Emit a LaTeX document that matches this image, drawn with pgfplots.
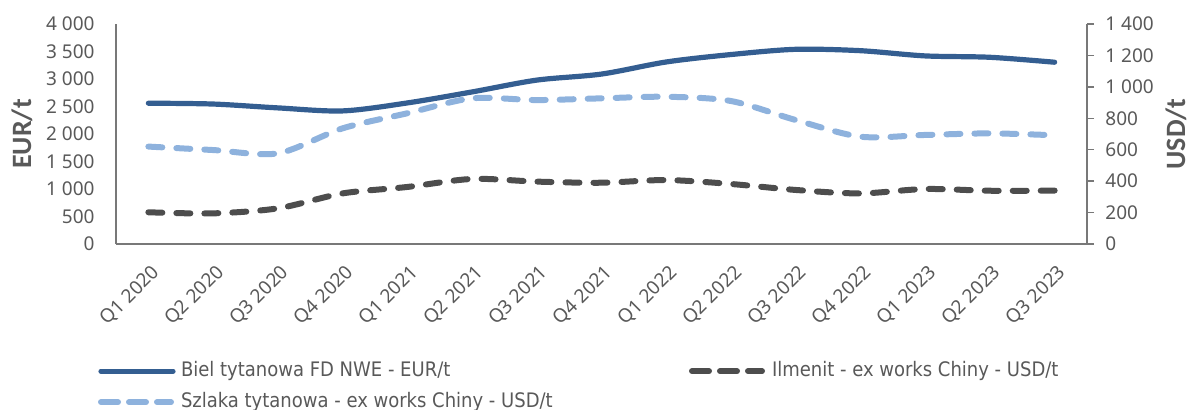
\documentclass[border=0pt]{standalone}
\usepackage{pgfplots}
\pgfplotsset{compat=1.18}
\usepackage{fontspec}
\setmainfont{Noto Sans}
\newfontfamily\legfont{DejaVu Sans Condensed}
\newfontfamily\labfont{Carlito}
\definecolor{biel}{RGB}{52,94,145}
\definecolor{szlaka}{RGB}{142,178,221}
\definecolor{ilmenit}{RGB}{77,77,77}
\definecolor{textgray}{RGB}{89,89,89}
\definecolor{axisgray}{RGB}{120,120,120}
\begin{document}
\begin{tikzpicture}
\pgfplotsset{
  common/.style={
    at={(0,0)}, anchor=south west, scale only axis,
    width=485.5pt, height=110pt,
    xmin=-0.5, xmax=14.5, clip=false,
    /pgf/number format/assume math mode=true,
    /pgf/number format/1000 sep={\ },
    scaled y ticks=false,
    axis line style={draw=axisgray, line width=0.75pt},
    tick label style={font=\fontsize{9.5}{11}\selectfont, text=textgray},
  },
  biel style/.style={biel, line width=2.6pt, line cap=round, line join=round},
  szlaka style/.style={szlaka, line width=3pt, line cap=round, dash pattern=on 7pt off 7pt},
  ilmenit style/.style={ilmenit, line width=3pt, line cap=round, dash pattern=on 7pt off 7pt},
}
\begin{axis}[common,
  axis x line*=bottom, axis y line*=left,
  ymin=0, ymax=4000, ytick={0,500,...,4000},
  xtick={0,...,14},
  xticklabels={Q1 2020,Q2 2020,Q3 2020,Q4 2020,Q1 2021,Q2 2021,Q3 2021,Q4 2021,Q1 2022,Q2 2022,Q3 2022,Q4 2022,Q1 2023,Q2 2023,Q3 2023},
  xtick style={draw=none}, ytick style={draw=none},
  xticklabel style={xshift=1pt, yshift=-9.5pt, rotate=45, anchor=north east, inner sep=0pt},
  yticklabel style={anchor=east, inner sep=0pt, xshift=-10.5pt},
  ylabel={EUR/t},
  every axis y label/.style={at={(axis description cs:0,0.5)}, rotate=90, anchor=center, yshift=47pt,
    font=\labfont\bfseries\fontsize{14}{16}\selectfont, text=textgray},
]
\addplot[biel style, smooth] coordinates {
(0,2560) (1,2545) (2,2475) (3,2420) (4,2565) (5,2765) (6,2980) (7,3090)
(8,3310) (9,3445) (10,3540) (11,3515) (12,3420) (13,3395) (14,3305)};
\end{axis}
\begin{axis}[common,
  axis y line*=right, axis x line=none,
  ymin=0, ymax=1400, ytick={0,200,...,1400},
  tick align=outside, major tick length=3.5pt,
  ytick style={draw=axisgray, line width=0.75pt},
  yticklabel style={anchor=west, inner sep=0pt, xshift=5.5pt},
  ylabel={USD/t},
  every axis y label/.style={at={(axis description cs:1,0.5)}, rotate=90, anchor=center, yshift=-44.5pt,
    font=\labfont\bfseries\fontsize{14}{16}\selectfont, text=textgray},
  legend columns=2,
  legend cell align=left,
  legend image code/.code={\path (0pt,0pt) -- (36pt,0pt); \draw[#1] (1.5pt,0pt) -- (34.5pt,0pt);},
  legend style={draw=none, fill=none, inner sep=0pt, outer sep=0pt,
    at={(0,0)}, anchor=north west, xshift=-9pt, yshift=-58.3pt,
    column sep=0pt, row sep=5pt,
    font=\legfont\fontsize{10}{12}\selectfont, text=textgray,
    nodes={inner sep=0pt, text height=8pt, text depth=2.5pt}},
]
\addlegendimage{biel style}
\addlegendentry{\hspace*{2.5pt}\makebox[254pt][l]{Biel tytanowa FD NWE - EUR/t}}
\addplot[ilmenit style, smooth] coordinates {
(0,202) (1,195) (2,227) (3,322) (4,363) (5,414) (6,397) (7,390)
(8,407) (9,382) (10,344) (11,322) (12,350) (13,339) (14,340)};
\addlegendentry{\hspace*{2.5pt}Ilmenit - ex works Chiny - USD/t}
\addplot[szlaka style, smooth] coordinates {
(0,620) (1,598) (2,577) (3,736) (4,832) (5,927) (6,916) (7,927)
(8,937) (9,910) (10,789) (11,683) (12,694) (13,704) (14,692)};
\addlegendentry{\hspace*{2.5pt}\makebox[254pt][l]{Szlaka tytanowa - ex works Chiny - USD/t}}
\end{axis}
\pgfresetboundingbox
\path[use as bounding box] (-58pt,-82.5pt) rectangle (538pt,122pt);
\end{tikzpicture}
\end{document}
